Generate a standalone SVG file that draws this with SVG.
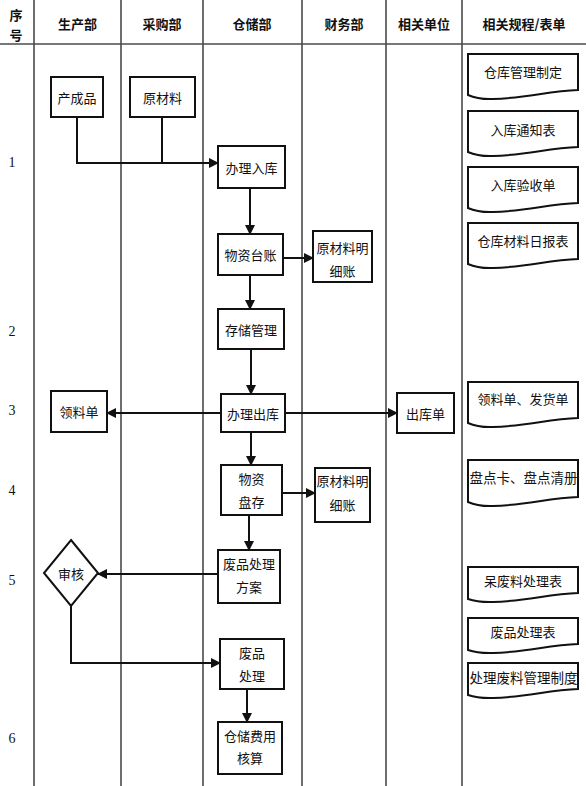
<svg xmlns="http://www.w3.org/2000/svg" width="586" height="786" viewBox="0 0 586 786">
<defs>
<style>
.grid{stroke:#4a4a4a;stroke-width:1.6;fill:none}
.box{fill:#fff;stroke:#111;stroke-width:2}
.doc{fill:#fff;stroke:#111;stroke-width:2}
.t{font-family:"Noto Sans CJK SC","Liberation Sans",sans-serif;font-size:13px;fill:#111;text-anchor:middle;dominant-baseline:central}
.h{font-family:"Noto Sans CJK SC","Liberation Sans",sans-serif;font-size:13px;font-weight:bold;fill:#111;text-anchor:middle;dominant-baseline:central}
.n{font-family:"Liberation Serif",serif;font-size:14px;fill:#111;text-anchor:middle;dominant-baseline:central}
.c{stroke:#111;stroke-width:2;fill:none}
.ca{stroke:#111;stroke-width:2;fill:none;marker-end:url(#arr)}
</style>
<marker id="arr" viewBox="0 0 10 10" refX="9" refY="5" markerWidth="5" markerHeight="5" orient="auto" markerUnits="strokeWidth">
<path d="M0,0 L10,5 L0,10 Z" fill="#111"/>
</marker>
</defs>
<rect width="586" height="786" fill="#fff"/>
<g id="grid">
<line class="grid" x1="0" y1="44" x2="586" y2="44"/>
<line class="grid" x1="34" y1="0" x2="34" y2="786"/>
<line class="grid" x1="121" y1="0" x2="121" y2="786"/>
<line class="grid" x1="203" y1="0" x2="203" y2="786"/>
<line class="grid" x1="302" y1="0" x2="302" y2="786"/>
<line class="grid" x1="386" y1="0" x2="386" y2="786"/>
<line class="grid" x1="462" y1="0" x2="462" y2="786"/>
</g>
<g id="header">
<text class="h" x="16" y="14">序</text>
<text class="h" x="16" y="34">号</text>
<text class="h" x="77.5" y="23">生产部</text>
<text class="h" x="162" y="23">采购部</text>
<text class="h" x="252" y="23">仓储部</text>
<text class="h" x="344" y="23">财务部</text>
<text class="h" x="424" y="23">相关单位</text>
<text class="h" x="524" y="23">相关规程/表单</text>
</g>
<g id="rownums">
<text class="n" x="12" y="162">1</text>
<text class="n" x="12" y="331">2</text>
<text class="n" x="12" y="410">3</text>
<text class="n" x="12" y="490">4</text>
<text class="n" x="12" y="580">5</text>
<text class="n" x="12" y="738">6</text>
</g>
<g id="connectors">
<polyline class="ca" points="77,117 77,163 218,163"/>
<line class="c" x1="162" y1="117" x2="162" y2="163"/>
<line class="ca" x1="250" y1="188" x2="250" y2="234"/>
<line class="ca" x1="283" y1="258" x2="313" y2="258"/>
<line class="ca" x1="250" y1="275" x2="250" y2="309"/>
<line class="ca" x1="251" y1="349" x2="251" y2="394"/>
<line class="ca" x1="221" y1="413" x2="107" y2="413"/>
<line class="ca" x1="285" y1="413" x2="397" y2="413"/>
<line class="ca" x1="251" y1="432" x2="251" y2="465"/>
<line class="ca" x1="282" y1="493" x2="315" y2="493"/>
<line class="ca" x1="249" y1="515" x2="249" y2="550"/>
<line class="ca" x1="218" y1="574" x2="98" y2="574"/>
<polyline class="ca" points="71,606 71,663 220,663"/>
<line class="ca" x1="247" y1="689" x2="247" y2="722"/>
</g>
<g id="n-chanchengpin"><rect class="box" x="51" y="77" width="52" height="40"/><text class="t" x="77" y="97">产成品</text></g>
<g id="n-yuancailiao"><rect class="box" x="130" y="77" width="65" height="40"/><text class="t" x="162.5" y="97">原材料</text></g>
<g id="n-ruku"><rect class="box" x="218" y="146" width="67" height="42"/><text class="t" x="251.5" y="167">办理入库</text></g>
<g id="n-taizhang"><rect class="box" x="218" y="234" width="65" height="41"/><text class="t" x="250.5" y="254.5">物资台账</text></g>
<g id="n-mingxi1"><rect class="box" x="313" y="231" width="59" height="51"/><text class="t" x="342.5" y="247">原材料明</text><text class="t" x="342.5" y="270">细账</text></g>
<g id="n-cunchu"><rect class="box" x="218" y="309" width="66" height="40"/><text class="t" x="251" y="329">存储管理</text></g>
<g id="n-chuku"><rect class="box" x="221" y="394" width="64" height="38"/><text class="t" x="253" y="413">办理出库</text></g>
<g id="n-lingliaodan"><rect class="box" x="51" y="391" width="56" height="41"/><text class="t" x="79" y="411.5">领料单</text></g>
<g id="n-chukudan"><rect class="box" x="397" y="393" width="57" height="40"/><text class="t" x="425.5" y="413">出库单</text></g>
<g id="n-pancun"><rect class="box" x="221" y="465" width="61" height="50"/><text class="t" x="251.5" y="478">物资</text><text class="t" x="251.5" y="501">盘存</text></g>
<g id="n-mingxi2"><rect class="box" x="315" y="468" width="55" height="54"/><text class="t" x="342.5" y="480">原材料明</text><text class="t" x="342.5" y="504">细账</text></g>
<g id="n-feipinfangan"><rect class="box" x="218" y="550" width="62" height="53"/><text class="t" x="249" y="563">废品处理</text><text class="t" x="249" y="586">方案</text></g>
<g id="n-shenhe"><polygon class="box" points="71,540 98,573 71,606 44,573"/><text class="t" x="71" y="573">审核</text></g>
<g id="n-feipinchuli"><rect class="box" x="220" y="639" width="64" height="50"/><text class="t" x="252" y="652">废品</text><text class="t" x="252" y="675">处理</text></g>
<g id="n-hesuan"><rect class="box" x="218" y="722" width="64" height="52"/><text class="t" x="250" y="735">仓储费用</text><text class="t" x="250" y="757">核算</text></g>
<g id="d-1"><path class="doc" d="M468,54 H578 V90 C548,91 528,98 493,99 Q478,99.5 468,95 Z"/><text class="t" x="523" y="71">仓库管理制定</text></g>
<g id="d-2"><path class="doc" d="M468,111 H578 V147 C548,148 528,155 493,156 Q478,156.5 468,152 Z"/><text class="t" x="523" y="129">入库通知表</text></g>
<g id="d-3"><path class="doc" d="M468,167 H578 V203 C548,204 528,211 493,212 Q478,212.5 468,208 Z"/><text class="t" x="523" y="184">入库验收单</text></g>
<g id="d-4"><path class="doc" d="M468,223 H578 V259 C548,260 528,267 493,268 Q478,268.5 468,264 Z"/><text class="t" x="523" y="240">仓库材料日报表</text></g>
<g id="d-5"><path class="doc" d="M468,382 H578 V418 C548,419 528,426 493,427 Q478,427.5 468,423 Z"/><text class="t" x="523" y="398">领料单、发货单</text></g>
<g id="d-6"><path class="doc" d="M468,460 H578 V497 C548,498 528,505 493,506 Q478,506.5 468,502 Z"/><text class="t" x="523.5" y="477" style="font-size:13.5px">盘点卡、盘点清册</text></g>
<g id="d-7"><path class="doc" d="M468,567 H578 V593 C548,594 528,601 493,602 Q478,602.5 468,599 Z"/><text class="t" x="523" y="580">呆废料处理表</text></g>
<g id="d-8"><path class="doc" d="M468,618 H578 V644 C548,645 528,652 493,653 Q478,653.5 468,650 Z"/><text class="t" x="523" y="631">废品处理表</text></g>
<g id="d-9"><path class="doc" d="M468,663 H578 V689 C548,690 528,697 493,698 Q478,698.5 468,695 Z"/><text class="t" x="523.5" y="677" style="font-size:13.5px">处理废料管理制度</text></g>
</svg>
